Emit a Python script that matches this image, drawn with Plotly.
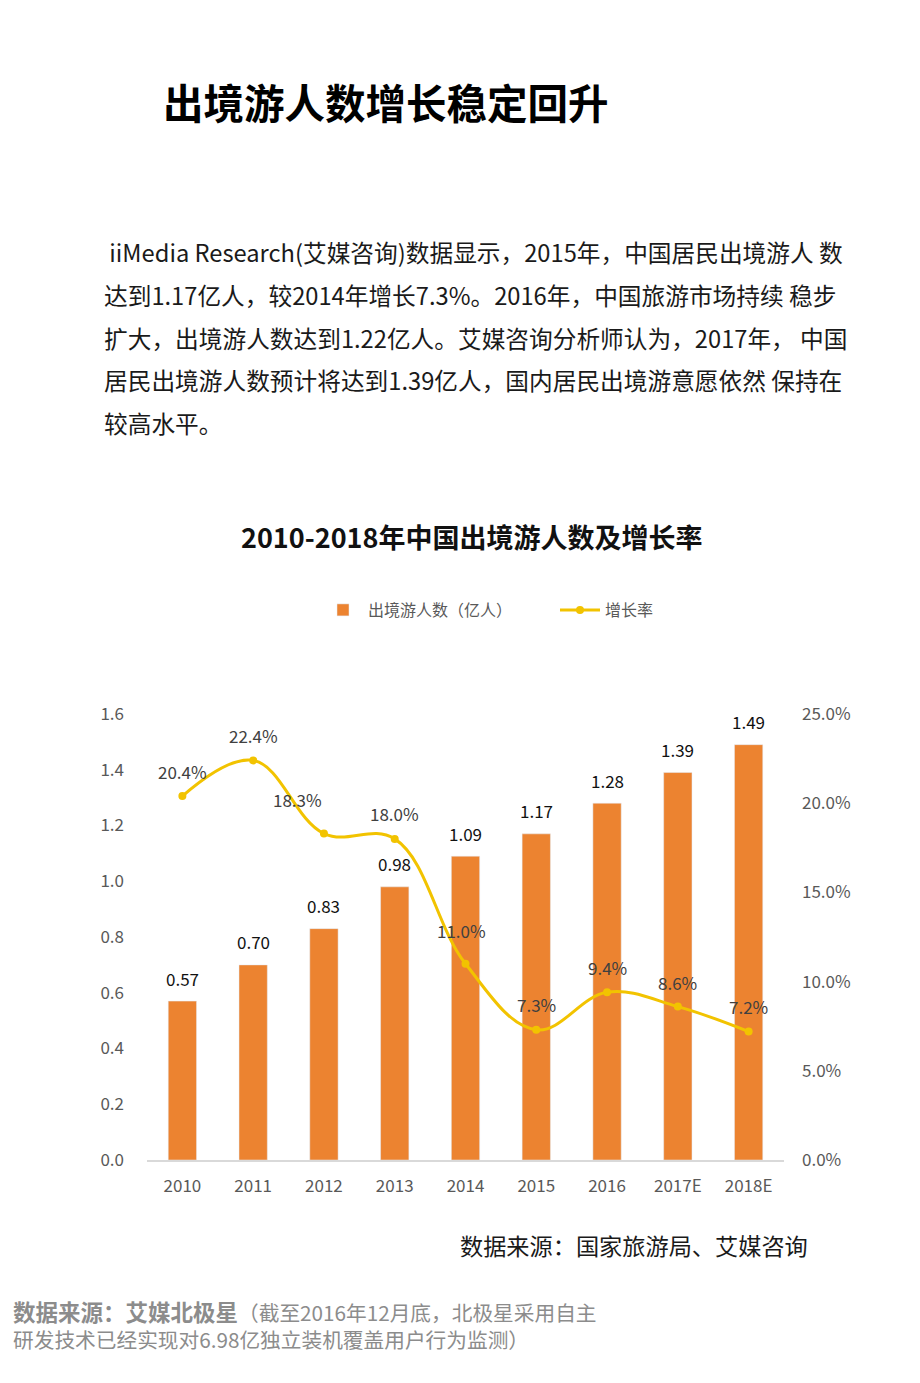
import plotly.graph_objects as go

categories = ["2010", "2011", "2012", "2013", "2014", "2015", "2016", "2017E", "2018E"]
travelers = [0.57, 0.70, 0.83, 0.98, 1.09, 1.17, 1.28, 1.39, 1.49]
growth = [0.204, 0.224, 0.183, 0.180, 0.110, 0.073, 0.094, 0.086, 0.072]
growth_labels = ["20.4%", "22.4%", "18.3%", "18.0%", "11.0%", "7.3%", "9.4%", "8.6%", "7.2%"]
left_ticks = [0.0, 0.2, 0.4, 0.6, 0.8, 1.0, 1.2, 1.4, 1.6]
right_ticks = [0.0, 0.05, 0.10, 0.15, 0.20, 0.25]

page_title = "出境游人数增长稳定回升"
paragraph = [
    " iiMedia Research(艾媒咨询)数据显示，2015年，中国居民出境游人 数",
    "达到1.17亿人，较2014年增长7.3%。2016年，中国旅游市场持续 稳步",
    "扩大，出境游人数达到1.22亿人。艾媒咨询分析师认为，2017年， 中国",
    "居民出境游人数预计将达到1.39亿人，国内居民出境游意愿依然 保持在",
    "较高水平。",
]
chart_title = "2010-2018年中国出境游人数及增长率"
source = "数据来源：国家旅游局、艾媒咨询"
foot_bold = "数据来源：艾媒北极星"
foot_1 = "（截至2016年12月底，北极星采用自主"
foot_2 = "研发技术已经实现对6.98亿独立装机覆盖用户行为监测）"

FONT = "Noto Sans CJK SC"
W, H = 920, 1383
OFF = 8  # default page body margin
BAR = "#EC8330"
LINE = "#F2C300"

idx = list(range(len(categories)))

fig = go.Figure()
fig.add_trace(go.Bar(
    x=idx, y=travelers, name="出境游人数（亿人）",
    marker=dict(color=BAR), width=0.4, yaxis="y",
))
fig.add_trace(go.Scatter(
    x=idx, y=growth, name="增长率", yaxis="y2",
    mode="lines+markers", line=dict(color=LINE, width=3, shape="spline", smoothing=1.1),
    marker=dict(color=LINE, size=8),
))

ann = []
for i, v in zip(idx, travelers):
    ann.append(dict(x=i, y=v, xref="x", yref="y", text=f"{v:.2f}", showarrow=False,
                    yshift=23, font=dict(family=FONT, size=17, color="#111111")))
xshifts = [0, 0, -26, 0, -4, 0, 0, 0, 0]
yshifts = [25, 25, 34, 25, 33, 25, 25, 24, 25]
for i, v, t, xs, ys in zip(idx, growth, growth_labels, xshifts, yshifts):
    ann.append(dict(x=i, y=v, xref="x", yref="y2", text=t, showarrow=False,
                    yshift=ys, xshift=xs, font=dict(family=FONT, size=17, color="#404040")))

def px(x, y, text, size, color="#222222", xanchor="left", bold=False):
    ann.append(dict(x=(x - OFF) / W, y=1 - (y - OFF) / H, xref="paper", yref="paper",
                    text=f"<b>{text}</b>" if bold else text, showarrow=False,
                    xanchor=xanchor, yanchor="middle", align="left",
                    font=dict(family=FONT, size=size, color=color)))

px(161, 101, page_title, 40.5, "#000000", bold=True)
for i, line in enumerate(paragraph):
    px(102, 252 + i * 42.8, line, 23.7, "#1a1a1a")
px(471, 536, chart_title, 27, "#111111", xanchor="center", bold=True)
px(458, 1245, source, 23.2, "#1a1a1a")
px(11, 1324,
   f"<b><span style='font-size:22.5px'>{foot_bold}</span></b>{foot_1}<br>{foot_2}",
   20.7, "#8c8c8c")

fig.update_layout(
    width=W, height=H, margin=dict(l=0, r=0, t=0, b=0, autoexpand=False),
    paper_bgcolor="white", plot_bgcolor="white",
    font=dict(family=FONT, size=16, color="#595959"),
    showlegend=True,
    legend=dict(orientation="h", x=(318 - OFF) / W, xanchor="left", y=1 - (610 - OFF) / H,
                yanchor="middle", font=dict(family=FONT, size=16, color="#595959"), itemwidth=40,
                entrywidthmode="pixels", entrywidth=182),
    xaxis=dict(domain=[(147 - OFF) / W, (784 - OFF) / W], range=[-0.5, len(categories) - 0.5],
               tickmode="array", tickvals=idx, ticktext=categories,
               showline=True, linecolor="#d9d9d9", linewidth=1.5, zeroline=False,
               ticks="", showgrid=False, tickfont=dict(size=17, color="#595959"),
               ticklabelstandoff=10, automargin=False),
    yaxis=dict(domain=[1 - (1160 - OFF) / H, 1 - (714 - OFF) / H], range=[0, 1.6],
               tickvals=left_ticks, tickformat=".1f", showgrid=False, zeroline=False, ticks="",
               automargin=False, tickfont=dict(size=17, color="#595959"), ticklabelstandoff=22),
    yaxis2=dict(overlaying="y", side="right", range=[0, 0.25], tickvals=right_ticks,
                tickformat=".1%", showgrid=False, zeroline=False, ticks="", automargin=False,
                tickfont=dict(size=17, color="#595959"), ticklabelstandoff=17),
    annotations=ann,
)

fig.write_html("out.html")
